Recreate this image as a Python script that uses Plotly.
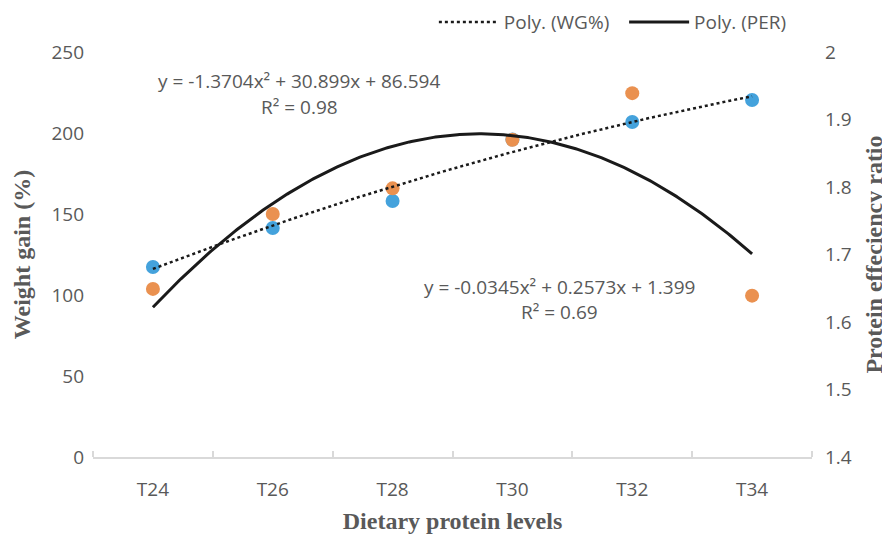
import numpy as np
import plotly.graph_objects as go

categories = ["T24", "T26", "T28", "T30", "T32", "T34"]
x_pos = [1, 2, 3, 4, 5, 6]
wg_values = [117.3, 141.4, 158.0, 196.0, 206.8, 220.4]
per_values = [1.649, 1.760, 1.798, 1.870, 1.939, 1.639]
wg_coef = [-1.3704, 30.899, 86.594]
per_coef = [-0.0345, 0.2573, 1.399]
y_ticks = [0, 50, 100, 150, 200, 250]
y2_ticks = [1.4, 1.5, 1.6, 1.7, 1.8, 1.9, 2.0]
y2_labels = ["1.4", "1.5", "1.6", "1.7", "1.8", "1.9", "2"]

xs = np.linspace(1, 6, 300)
wg_trend = np.polyval(wg_coef, xs)
per_trend = np.polyval(per_coef, xs)

BLUE = "#44A2DC"
ORANGE = "#EA9150"
GRAY = "#595959"
TICKFONT = dict(family="Open Sans", size=19, color=GRAY)
TITLEFONT = dict(family="Liberation Serif", size=24, color=GRAY)

fig = go.Figure()
fig.add_trace(go.Scatter(x=x_pos, y=wg_values, mode="markers", yaxis="y",
                         marker=dict(color=BLUE, size=14), showlegend=False))
fig.add_trace(go.Scatter(x=x_pos, y=per_values, mode="markers", yaxis="y2",
                         marker=dict(color=ORANGE, size=14), showlegend=False))
fig.add_trace(go.Scatter(x=xs, y=per_trend, mode="lines", yaxis="y2",
                         name="Poly. (PER)", line=dict(color="#1a1a1a", width=3)))
fig.add_trace(go.Scatter(x=xs, y=wg_trend, mode="lines", yaxis="y3",
                         name="Poly. (WG%)&nbsp;&nbsp;", line=dict(color="#1a1a1a", width=2.5, dash="dot")))

fig.update_layout(
    width=882, height=528,
    margin=dict(l=85, r=78, t=44, b=79, autoexpand=False),
    plot_bgcolor="white", paper_bgcolor="white",
    xaxis=dict(range=[0.5, 6.5], tickvals=x_pos, ticktext=categories, ticks="",
               showgrid=False, zeroline=False, showline=True, linecolor="#d9d9d9", linewidth=1.5,
               tickfont=TICKFONT, ticklabelstandoff=14, automargin=False,
               minor=dict(tickvals=[0.5, 1.5, 2.5, 3.5, 4.5, 5.5, 6.5], ticks="inside",
                          ticklen=6, tickcolor="#d9d9d9", tickwidth=1.5, showgrid=False),
               title=dict(text="<b>Dietary protein levels</b>", standoff=12, font=TITLEFONT)),
    yaxis=dict(range=[0, 250], tickvals=y_ticks, showgrid=False, zeroline=False,
               showline=False, ticks="", tickfont=TICKFONT, ticklabelstandoff=8, automargin=False,
               title=dict(text="<b>Weight gain (%)</b>", standoff=14, font=TITLEFONT)),
    yaxis2=dict(range=[1.4, 2.0], tickvals=y2_ticks, ticktext=y2_labels, overlaying="y",
                side="right", showgrid=False, zeroline=False, showline=False, ticks="",
                tickfont=TICKFONT, ticklabelstandoff=12, automargin=False,
                title=dict(text="<b>Protein effeciency ratio</b>", standoff=14, font=TITLEFONT)),
    yaxis3=dict(range=[0, 250], overlaying="y", visible=False),
    legend=dict(orientation="h", x=0.972, xanchor="right", y=1.074, yanchor="middle",
                font=dict(family="Open Sans", size=19, color=GRAY), itemwidth=60,
                traceorder="reversed", bgcolor="rgba(0,0,0,0)"),
    showlegend=True,
)

ann_font = dict(family="Open Sans", size=19, color=GRAY)
fig.add_annotation(x=2.219, y=232.1, xref="x", yref="y", text="y = -1.3704x² + 30.899x + 86.594",
                   showarrow=False, font=ann_font)
fig.add_annotation(x=2.227, y=216.2, xref="x", yref="y", text="R² = 0.98",
                   showarrow=False, font=ann_font)
fig.add_annotation(x=4.389, y=104.9, xref="x", yref="y", text="y = -0.0345x² + 0.2573x + 1.399",
                   showarrow=False, font=ann_font)
fig.add_annotation(x=4.389, y=89.6, xref="x", yref="y", text="R² = 0.69",
                   showarrow=False, font=ann_font)

fig.write_html("out.html")
